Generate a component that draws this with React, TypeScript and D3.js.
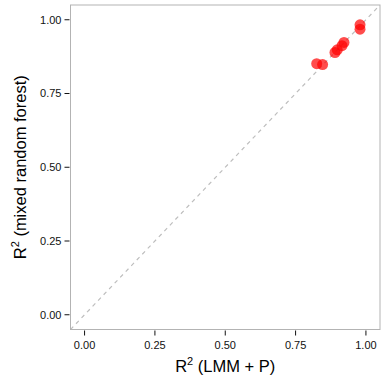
import * as d3 from 'd3';

const lmmR2 = [0.825, 0.846, 0.89, 0.898, 0.915, 0.922, 0.979, 0.979];
const rfR2 = [0.851, 0.848, 0.889, 0.898, 0.912, 0.923, 0.983, 0.968];
const tickValues = [0, 0.25, 0.5, 0.75, 1];

const width = 381;
const height = 385;
const panel = { left: 70.5, right: 380, top: 5, bottom: 329.5 };

export default function App() {
  const x = d3.scaleLinear().domain([-0.05, 1.05]).range([panel.left, panel.right]);
  const y = d3.scaleLinear().domain([-0.05, 1.05]).range([panel.bottom, panel.top]);
  const fmt = d3.format('.2f');
  const font = 'Liberation Sans, Arial, sans-serif';

  return (
    <svg
      width={width}
      height={height}
      style={{ position: 'fixed', left: 0, top: 0, background: '#fff' }}
      fontFamily={font}
    >
      <defs>
        <clipPath id="panel-clip">
          <rect x={panel.left} y={panel.top} width={panel.right - panel.left} height={panel.bottom - panel.top} />
        </clipPath>
      </defs>

      {/* identity line */}
      <line
        x1={x(-0.05)}
        y1={y(-0.05)}
        x2={x(1.05)}
        y2={y(1.05)}
        stroke="#bebebe"
        strokeWidth={1.2}
        strokeDasharray="4,4"
        clipPath="url(#panel-clip)"
      />

      {/* points */}
      <g clipPath="url(#panel-clip)">
        {lmmR2.map((v, i) => (
          <circle key={i} cx={x(v)} cy={y(rfR2[i])} r={5.5} fill="#ff0000" fillOpacity={0.7} />
        ))}
      </g>

      {/* panel border */}
      <rect
        x={panel.left}
        y={panel.top}
        width={panel.right - panel.left}
        height={panel.bottom - panel.top}
        fill="none"
        stroke="#b3b3b3"
        strokeWidth={1}
      />

      {/* x axis */}
      <g>
        {tickValues.map(t => (
          <g key={t} transform={`translate(${x(t)},${panel.bottom})`}>
            <line y1={1} y2={6} stroke="#111" strokeWidth={1} />
            <text y={19} textAnchor="middle" fontSize={11} fill="#111">{fmt(t)}</text>
          </g>
        ))}
      </g>

      {/* y axis */}
      <g>
        {tickValues.map(t => (
          <g key={t} transform={`translate(${panel.left},${y(t)})`}>
            <line x1={-1} x2={-6} stroke="#111" strokeWidth={1} />
            <text x={-9} dy="0.35em" textAnchor="end" fontSize={11} fill="#111">{fmt(t)}</text>
          </g>
        ))}
      </g>

      {/* axis titles */}
      <text x={(panel.left + panel.right) / 2} y={372} textAnchor="middle" fontSize={16.5} fill="#000">
        R<tspan dy={-7} fontSize={11}>2</tspan><tspan dy={7}> (LMM + P)</tspan>
      </text>
      <text
        transform={`translate(26,${(panel.top + panel.bottom) / 2}) rotate(-90)`}
        textAnchor="middle"
        fontSize={16.5}
        fill="#000"
      >
        R<tspan dy={-7} fontSize={11}>2</tspan><tspan dy={7}> (mixed random forest)</tspan>
      </text>
    </svg>
  );
}
